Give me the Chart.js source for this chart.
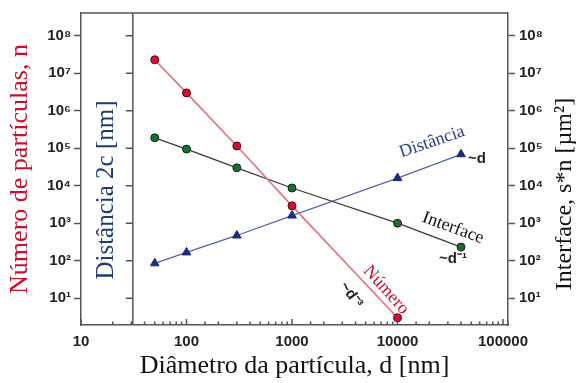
<!DOCTYPE html>
<html>
<head>
<meta charset="utf-8">
<script src="https://cdn.jsdelivr.net/npm/chart.js@4.4.1/dist/chart.umd.min.js"></script>
<style>
  html, body { margin: 0; padding: 0; background: #fff; }
  #wrap { width: 579px; height: 383px; }
</style>
</head>
<body>
<div id="wrap"><canvas id="chart" width="579" height="383"></canvas></div>
<script>
// particle diameter d [nm]
var diametro = [50, 100, 300, 1000, 10000, 40000];
// number of particles n (left axis)
var numero = [2.3e7, 3.0e6, 1.15e5, 2.9e3, 3, null];
// interface s*n [um2] (right axis)
var interfaceVals = [1.9e5, 9.5e4, 3.0e4, 8.7e3, 1.0e3, 2.3e2];
// distance 2c [nm]
var distancia = [85, 166, 470, 1600, 1.6e4, 6.9e4];

var yTicks = [1e1, 1e2, 1e3, 1e4, 1e5, 1e6, 1e7, 1e8];
var xTickLabels = [10, 100, 1000, 10000, 100000];

var sup = "⁰¹²³⁴⁵⁶⁷⁸⁹";
function powLabel(v) {
  var e = Math.round(Math.log10(v));
  return "10" + sup[e];
}
function isPow10(v) {
  var l = Math.log10(v);
  return Math.abs(l - Math.round(l)) < 1e-9;
}
function pts(ys) {
  var out = [];
  for (var i = 0; i < diametro.length; i++) {
    if (ys[i] != null) out.push({ x: diametro[i], y: ys[i] });
  }
  return out;
}

var tickFont = { family: "Liberation Sans", weight: "bold", size: 15 };
var axisCol = "#555";

// extras: top border, inner "Distancia" axis, inward x ticks, texts
var decor = {
  id: "decor",
  beforeDatasetsDraw: function (chart) {
    var ctx = chart.ctx, a = chart.chartArea;
    var xs = chart.scales.x, ys = chart.scales.y;
    ctx.save();
    ctx.strokeStyle = axisCol;
    ctx.lineWidth = 1.5;
    ctx.beginPath();
    ctx.moveTo(a.left, a.top); ctx.lineTo(a.right, a.top);
    var ix = xs.getPixelForValue(31);
    ctx.moveTo(ix, a.top); ctx.lineTo(ix, a.bottom);
    yTicks.forEach(function (v) {
      var py = ys.getPixelForValue(v);
      ctx.moveTo(ix - 7, py); ctx.lineTo(ix, py);
    });
    xs.ticks.forEach(function (t) {
      var px = xs.getPixelForValue(t.value);
      var len = isPow10(t.value) ? 6 : 3.5;
      ctx.moveTo(px, a.bottom); ctx.lineTo(px, a.bottom - len);
    });
    ctx.stroke();
    ctx.restore();
  },
  afterDraw: function (chart) {
    var ctx = chart.ctx;
    function txt(s, x, y, font, color, deg) {
      ctx.save();
      ctx.translate(x, y);
      ctx.rotate((deg || 0) * Math.PI / 180);
      ctx.font = font;
      ctx.fillStyle = color;
      ctx.textAlign = "center";
      ctx.textBaseline = "middle";
      ctx.fillText(s, 0, 0);
      ctx.restore();
    }
    txt("Distância 2c [nm]", 106, 190, "25px 'Liberation Serif'", "#1f3a78", -90);
    txt("Interface, s*n [µm²]", 565, 194, "24px 'Liberation Serif'", "#111", -90);
    txt("Distância", 432, 142, "18px 'Liberation Serif'", "#2b3f8c", -19);
    txt("~d", 477, 159, "bold 15px 'Liberation Sans'", "#222", 0);
    txt("Interface", 453, 228, "18px 'Liberation Serif'", "#111", 20);
    txt("~d⁻¹", 453, 259, "bold 15px 'Liberation Sans'", "#222", 0);
    txt("Número", 386, 290, "18px 'Liberation Serif'", "#c8102e", 48);
    txt("~d⁻³", 351, 295, "bold 15px 'Liberation Sans'", "#222", 55);
  }
};

new Chart("chart", {
  type: "scatter",
  data: {
    datasets: [{
      label: "Número",
      data: pts(numero),
      yAxisID: "y",
      showLine: true,
      borderColor: "#e6707c",
      borderWidth: 1.6,
      pointBackgroundColor: "#d4112e",
      pointBorderColor: "#5a0010",
      pointBorderWidth: 1,
      pointRadius: 4
    }, {
      label: "Interface",
      data: pts(interfaceVals),
      yAxisID: "y2",
      showLine: true,
      borderColor: "#3a3a3a",
      borderWidth: 1.3,
      pointBackgroundColor: "#1e6b30",
      pointBorderColor: "#0d2a12",
      pointBorderWidth: 1,
      pointRadius: 4
    }, {
      label: "Distância",
      data: pts(distancia),
      yAxisID: "y",
      showLine: true,
      borderColor: "#5563a8",
      borderWidth: 1.3,
      pointStyle: "triangle",
      pointBackgroundColor: "#1c2d78",
      pointBorderColor: "#1c2d78",
      pointBorderWidth: 1,
      pointRadius: 5
    }]
  },
  options: {
    responsive: false,
    animation: false,
    devicePixelRatio: 1,
    layout: { padding: { top: 11, left: 0, right: 0, bottom: 0 } },
    plugins: { legend: { display: false }, tooltip: { enabled: false } },
    scales: {
      x: {
        type: "logarithmic",
        position: "bottom",
        min: 10,
        max: 1.115e5,
        grid: { display: false, drawTicks: false },
        border: { display: true, color: axisCol, width: 1.5 },
        ticks: {
          autoSkip: false,
          maxRotation: 0,
          padding: 8,
          color: "#222",
          font: tickFont,
          callback: function (v) { return xTickLabels.indexOf(v) >= 0 ? String(v) : ""; }
        },
        title: {
          display: true,
          text: "Diâmetro da partícula, d [nm]",
          color: "#111",
          font: { family: "Liberation Serif", size: 26 },
          padding: { top: 0, bottom: 1 }
        },
        afterFit: function (s) { s.height = 58; }
      },
      y: {
        type: "logarithmic",
        position: "left",
        min: 1.92,
        max: 4.07e8,
        afterBuildTicks: function (s) { s.ticks = yTicks.map(function (v) { return { value: v }; }); },
        grid: { drawOnChartArea: false, drawTicks: true, tickLength: 7, color: axisCol, tickWidth: 1.5 },
        border: { display: true, color: axisCol, width: 1.5 },
        ticks: { padding: 3, color: "#222", font: tickFont, callback: powLabel },
        title: {
          display: true,
          text: "Número de partículas, n",
          color: "#c8102e",
          font: { family: "Liberation Serif", size: 26 },
          padding: { top: 5, bottom: 0 }
        },
        afterFit: function (s) { s.width = 81; }
      },
      y2: {
        type: "logarithmic",
        position: "right",
        min: 1.92,
        max: 4.07e8,
        afterBuildTicks: function (s) { s.ticks = yTicks.map(function (v) { return { value: v }; }); },
        grid: { drawOnChartArea: false, drawTicks: true, tickLength: 7, color: axisCol, tickWidth: 1.5 },
        border: { display: true, color: axisCol, width: 1.5 },
        ticks: { padding: 4, color: "#222", font: tickFont, callback: powLabel },
        afterFit: function (s) { s.width = 71; }
      }
    }
  },
  plugins: [decor]
});
</script>
</body>
</html>
